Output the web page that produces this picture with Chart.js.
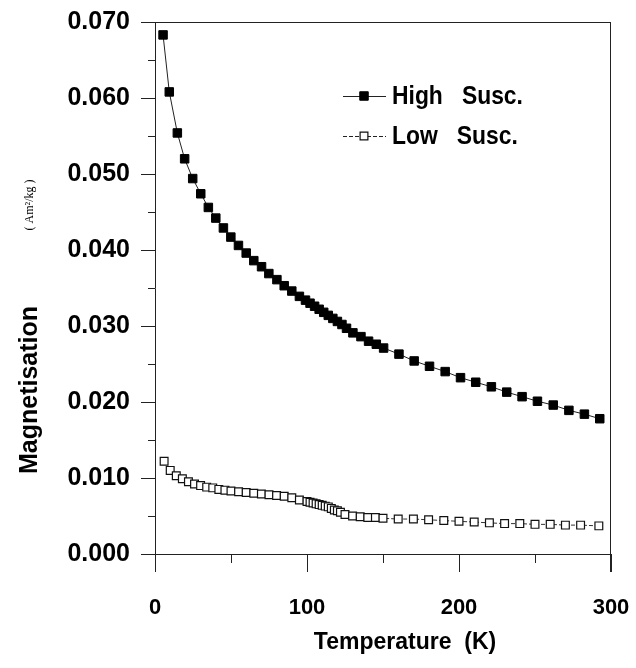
<!DOCTYPE html>
<html>
<head>
<meta charset="utf-8">
<script src="https://cdn.jsdelivr.net/npm/chart.js@4/dist/chart.umd.min.js"></script>
<style>
  body { margin: 0; background: #fff; }
  canvas { display: block; }
</style>
</head>
<body>
<canvas id="magChart" width="636" height="668"></canvas>
<script>
// values
const highT = [5.3, 9.4, 14.7, 19.5, 24.8, 30.1, 35.1, 40, 45, 49.9, 54.9, 60, 65, 70.1, 74.9, 80.2, 85, 90, 95,
    99, 102, 105, 108, 111, 114, 117, 120, 123, 126, 130.2, 135.5, 140.5, 145.6, 150.4, 160.5, 170.5, 180.6, 190.9,
    201, 211, 221.3, 231.4, 241.5, 251.6, 262, 272.3, 282.5, 292.6];
const highM = [0.0683, 0.0608, 0.0554, 0.0520, 0.0494, 0.0474, 0.0456, 0.0442, 0.0429, 0.0417, 0.0406, 0.0396, 0.0386, 0.0378, 0.0369, 0.0361, 0.0353, 0.0346, 0.0339,
    0.0334, 0.0330, 0.0326, 0.0322, 0.0318, 0.0314, 0.0310, 0.0306, 0.0302, 0.0297, 0.0291, 0.0286, 0.0280, 0.0276, 0.0271, 0.0263, 0.0254, 0.0247, 0.0240,
    0.0232, 0.0226, 0.0220, 0.0213, 0.0207, 0.0201, 0.0196, 0.0189, 0.0184, 0.0178];

const lowT = [6, 10, 14, 18, 22, 26, 30, 34, 38, 42, 46, 50, 55, 60, 65, 70, 75, 80, 85, 90, 95,
    100, 102, 104, 106, 108, 110, 112, 114, 116, 118, 120, 122, 125, 130, 135, 140, 145, 150,
    160, 170, 180, 190, 200, 210, 220, 230, 240, 250, 260, 270, 280, 292];
const lowM = [0.0122, 0.0110, 0.0103, 0.0099, 0.0095, 0.0092, 0.0090, 0.0088, 0.0087, 0.0085, 0.0084, 0.0083, 0.0082, 0.0081, 0.0080, 0.0079, 0.0078, 0.0077, 0.0076, 0.0074, 0.0071,
    0.0069, 0.0068, 0.0067, 0.0066, 0.0065, 0.0064, 0.0063, 0.0062, 0.0060, 0.0058, 0.0057, 0.0055, 0.0052, 0.0050, 0.0049, 0.0048, 0.0048, 0.0047,
    0.0046, 0.0046, 0.0045, 0.0044, 0.0043, 0.0042, 0.0041, 0.0040, 0.0040, 0.0039, 0.0039, 0.0038, 0.0038, 0.0037];

const xMajor = [0, 100, 200, 300];
const xMinor = [50, 150, 250];
const seriesNames = ["High   Susc.", "Low   Susc."];

const sans = "'Liberation Sans', Arial, sans-serif";

const frameAndTicks = {
    id: "frameAndTicks",
    afterDraw(chart) {
        const c = chart.ctx;
        const a = chart.chartArea;
        const xs = chart.scales.x, ys = chart.scales.y;
        c.save();
        c.strokeStyle = "#222";
        c.lineWidth = 1;
        c.beginPath();
        // top and right frame
        c.moveTo(a.left, a.top + 0.5);
        c.lineTo(a.right, a.top + 0.5);
        c.moveTo(a.right - 0.5, a.top);
        c.lineTo(a.right - 0.5, a.bottom + 18);
        // x ticks
        xMajor.forEach(v => {
            const px = Math.round(xs.getPixelForValue(v)) + 0.5;
            c.moveTo(px, a.bottom); c.lineTo(px, a.bottom + 18);
        });
        xMinor.forEach(v => {
            const px = Math.round(xs.getPixelForValue(v)) + 0.5;
            c.moveTo(px, a.bottom); c.lineTo(px, a.bottom + 9);
        });
        // y ticks
        for (let i = 0; i <= 14; i++) {
            const py = Math.round(ys.getPixelForValue(i * 0.005)) + 0.5;
            c.moveTo(a.left, py); c.lineTo(a.left - (i % 2 === 0 ? 14 : 7), py);
        }
        c.stroke();

        // axis titles
        c.fillStyle = "#000";
        c.textAlign = "center";
        c.textBaseline = "middle";
        c.font = "bold 23px " + sans;
        c.fillText("Temperature  (K)", 405, 643);
        c.translate(30, 0);
        c.rotate(-Math.PI / 2);
        c.font = "bold 25px " + sans;
        c.fillText("Magnetisation", -390, 0);
        c.font = "12px 'Liberation Serif', serif";
        c.fillText("( Am\u00b2/kg )", -205, 0);
        c.restore();
    }
};

const insideLegend = {
    id: "insideLegend",
    afterDatasetsDraw(chart) {
        const c = chart.ctx;
        const rowY = [96, 136];
        c.save();
        chart.data.datasets.forEach((ds, i) => {
            const y = rowY[i];
            c.strokeStyle = "#222";
            c.lineWidth = 1;
            c.setLineDash(ds.borderDash || []);
            c.beginPath();
            c.moveTo(343, y + 0.5);
            c.lineTo(386, y + 0.5);
            c.stroke();
            c.setLineDash([]);
            c.fillStyle = ds.pointBackgroundColor;
            c.strokeStyle = ds.pointBorderColor;
            c.lineWidth = ds.pointBorderWidth;
            c.beginPath();
            const s = Math.SQRT1_2 * ds.pointRadius;
            c.rect(364 - s, y - s, 2 * s, 2 * s);
            c.fill();
            c.stroke();
            c.save();
            c.translate(392, y + 1);
            c.scale(0.88, 1);
            c.fillStyle = "#000";
            c.font = "bold 26px " + sans;
            c.textAlign = "left";
            c.textBaseline = "middle";
            c.fillText(ds.label, 0, 0);
            c.restore();
        });
        c.restore();
    }
};

const ctx = document.getElementById("magChart").getContext("2d");
new Chart(ctx, {
    type: "line",
    data: {
        datasets: [{
            label: seriesNames[0],
            data: highT.map((t, i) => ({ x: t, y: highM[i] })),
            borderColor: "#222",
            borderWidth: 1,
            pointStyle: "rect",
            pointRadius: 6,
            pointBackgroundColor: "#000",
            pointBorderColor: "#000",
            pointBorderWidth: 1,
            tension: 0,
        }, {
            label: seriesNames[1],
            data: lowT.map((t, i) => ({ x: t, y: lowM[i] })),
            borderColor: "#333",
            borderWidth: 1,
            borderDash: [4, 2],
            pointStyle: "rect",
            pointRadius: 5.5,
            pointBackgroundColor: "#fff",
            pointBorderColor: "#111",
            pointBorderWidth: 1.2,
            tension: 0,
        }],
    },
    options: {
        responsive: false,
        animation: false,
        layout: { padding: { top: 22, right: 25, left: 0, bottom: 0 } },
        plugins: { legend: { display: false }, tooltip: { enabled: false } },
        scales: {
            x: {
                type: "linear",
                min: 0,
                max: 300,
                afterFit(scale) {
                    scale.height = 114;
                    scale.paddingLeft = 0;
                    scale.paddingRight = 0;
                },
                grid: { display: false, drawTicks: false },
                border: { display: true, color: "#222", width: 1 },
                ticks: {
                    stepSize: 100,
                    padding: 41,
                    color: "#000",
                    font: { family: sans, size: 22, weight: "bold" },
                    maxRotation: 0,
                },
            },
            y: {
                min: 0,
                max: 0.07,
                afterFit(scale) {
                    scale.width = 155;
                    scale.paddingTop = 0;
                    scale.paddingBottom = 0;
                },
                grid: { display: false, drawTicks: false },
                border: { display: true, color: "#222", width: 1 },
                ticks: {
                    stepSize: 0.01,
                    padding: 25,
                    color: "#000",
                    font: { family: sans, size: 25, weight: "bold" },
                    callback: v => v.toFixed(3),
                },
            },
        },
    },
    plugins: [frameAndTicks, insideLegend],
});
</script>
</body>
</html>
